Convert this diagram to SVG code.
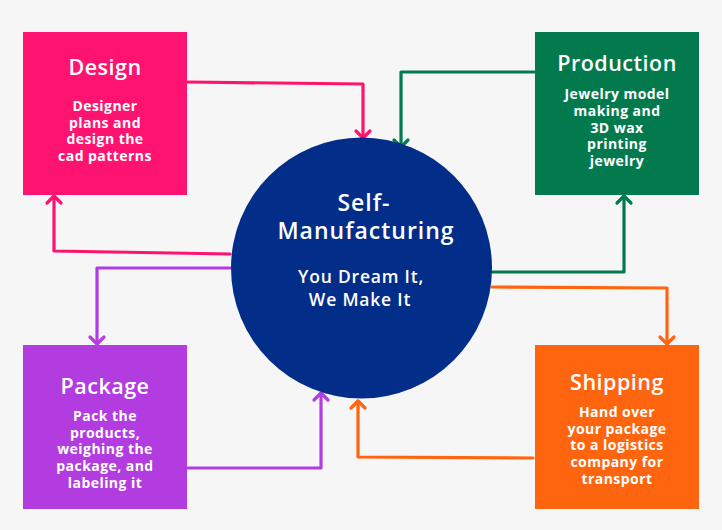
<svg xmlns="http://www.w3.org/2000/svg" width="722" height="530" viewBox="0 0 722 530">
<defs>
<style>
.t{font-family:"Open Sans","Liberation Sans",sans-serif;font-weight:600;font-size:21.5px;letter-spacing:0.5px;fill:#fff;text-anchor:middle}
.b{font-family:"Open Sans","Liberation Sans",sans-serif;font-weight:700;font-size:14px;letter-spacing:0.45px;fill:#fff;text-anchor:middle}
.m{font-family:"Open Sans","Liberation Sans",sans-serif;font-weight:600;font-size:23px;letter-spacing:1px;fill:#fff;text-anchor:middle}
.s{font-family:"Open Sans","Liberation Sans",sans-serif;font-weight:600;font-size:17.5px;letter-spacing:0.8px;fill:#fff;text-anchor:middle}
.c{fill:none;stroke-width:3.2;stroke-linecap:round;stroke-linejoin:round}
</style>
<marker id="aPink" markerUnits="userSpaceOnUse" markerWidth="20" markerHeight="20" refX="10" refY="10" orient="auto" overflow="visible"><path d="M3,3 L10,10 L3,17" fill="none" stroke="#fe1470" stroke-width="3.2" stroke-linecap="round" stroke-linejoin="round"/></marker>
<marker id="aGreen" markerUnits="userSpaceOnUse" markerWidth="20" markerHeight="20" refX="10" refY="10" orient="auto" overflow="visible"><path d="M3,3 L10,10 L3,17" fill="none" stroke="#027a4e" stroke-width="3.2" stroke-linecap="round" stroke-linejoin="round"/></marker>
<marker id="aPurple" markerUnits="userSpaceOnUse" markerWidth="20" markerHeight="20" refX="10" refY="10" orient="auto" overflow="visible"><path d="M3,3 L10,10 L3,17" fill="none" stroke="#b23ce0" stroke-width="3.2" stroke-linecap="round" stroke-linejoin="round"/></marker>
<marker id="aOrange" markerUnits="userSpaceOnUse" markerWidth="20" markerHeight="20" refX="10" refY="10" orient="auto" overflow="visible"><path d="M3,3 L10,10 L3,17" fill="none" stroke="#ff650e" stroke-width="3.2" stroke-linecap="round" stroke-linejoin="round"/></marker>
</defs>
<rect width="722" height="530" fill="#f6f6f6"/>
<g id="connectors">
<polyline class="c" stroke="#fe1470" points="188,82 363,84 363,138" marker-end="url(#aPink)"/>
<polyline class="c" stroke="#027a4e" points="534,72 401,72 401,147" marker-end="url(#aGreen)"/>
<polyline class="c" stroke="#fe1470" points="230,254 54,251 54,196" marker-end="url(#aPink)"/>
<polyline class="c" stroke="#b23ce0" points="230,268 97,268 97,344" marker-end="url(#aPurple)"/>
<polyline class="c" stroke="#027a4e" points="492,272 624,272 624,196" marker-end="url(#aGreen)"/>
<polyline class="c" stroke="#ff650e" points="492,287 667,288 667,344" marker-end="url(#aOrange)"/>
<polyline class="c" stroke="#b23ce0" points="188,468 321,468 321,393" marker-end="url(#aPurple)"/>
<polyline class="c" stroke="#ff650e" points="533,458 358,457 358,401" marker-end="url(#aOrange)"/>
</g>
<g id="center">
<circle cx="361.5" cy="268" r="130.5" fill="#022e8a"/>
<text class="m" x="364" y="211">Self-</text>
<text class="m" x="366" y="239">Manufacturing</text>
<text class="s" x="361" y="283">You Dream It,</text>
<text class="s" x="360" y="306">We Make It</text>
</g>
<g id="design">
<rect x="23" y="32" width="164" height="163" fill="#fe1470"/>
<text class="t" x="105" y="75">Design</text>
<text class="b" x="105" y="111">Designer</text>
<text class="b" x="105" y="127.5">plans and</text>
<text class="b" x="105" y="144">design the</text>
<text class="b" x="105" y="160.5">cad patterns</text>
</g>
<g id="production">
<rect x="535" y="32" width="164" height="163" fill="#027a4e"/>
<text class="t" x="617" y="71">Production</text>
<text class="b" x="617" y="99">Jewelry model</text>
<text class="b" x="617" y="116">making and</text>
<text class="b" x="617" y="132.5">3D wax</text>
<text class="b" x="617" y="149">printing</text>
<text class="b" x="617" y="166">jewelry</text>
</g>
<g id="package">
<rect x="23" y="345" width="164" height="164" fill="#b23ce0"/>
<text class="t" x="105" y="394">Package</text>
<text class="b" x="105" y="421">Pack the</text>
<text class="b" x="105" y="437.5">products,</text>
<text class="b" x="105" y="454">weighing the</text>
<text class="b" x="105" y="471">package, and</text>
<text class="b" x="105" y="488">labeling it</text>
</g>
<g id="shipping">
<rect x="535" y="345" width="164" height="164" fill="#ff650e"/>
<text class="t" x="617" y="390">Shipping</text>
<text class="b" x="617" y="417">Hand over</text>
<text class="b" x="617" y="433.5">your package</text>
<text class="b" x="617" y="450">to a logistics</text>
<text class="b" x="617" y="467">company for</text>
<text class="b" x="617" y="484">transport</text>
</g>
</svg>
